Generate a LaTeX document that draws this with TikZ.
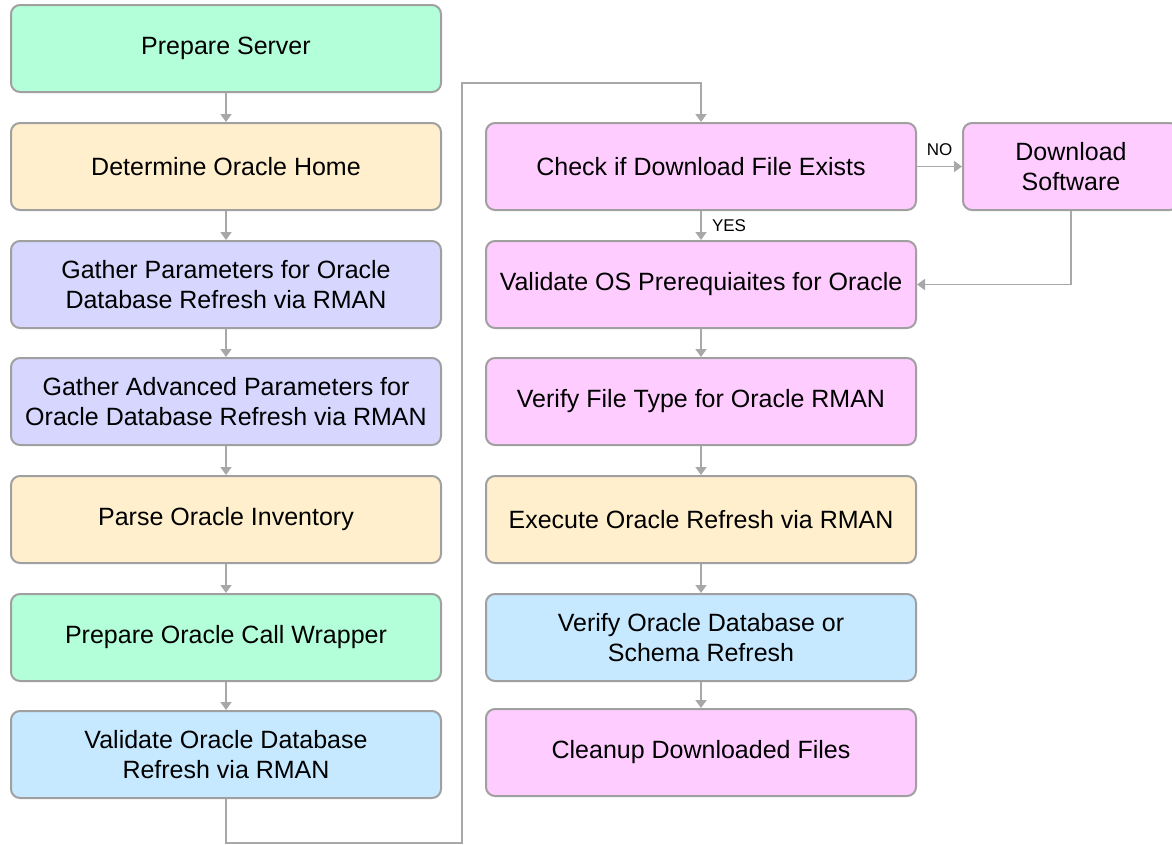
\documentclass[tikz,border=0pt]{standalone}
\usepackage{fontspec}
\setmainfont{Liberation Sans}
\usetikzlibrary{arrows.meta}
\definecolor{cgreen}{HTML}{B3FFD9}
\definecolor{cbeige}{HTML}{FFEFCC}
\definecolor{clav}{HTML}{D6D6FF}
\definecolor{cblue}{HTML}{C6E9FF}
\definecolor{cpink}{HTML}{FFCCFF}
\definecolor{cborder}{HTML}{A0A0A0}
\definecolor{cline}{HTML}{A8A8A8}
\begin{document}
\begin{tikzpicture}[x=1pt,y=-1pt,
  box/.style={draw=cborder, line width=2pt, rounded corners=9pt, minimum width=430pt, minimum height=87pt, align=center, font=\fontsize{25}{30}\selectfont, inner sep=0pt, text=black},
  conn/.style={draw=cline, line width=1.8pt, -{Triangle[width=11pt,length=8pt]}},
  lbl/.style={font=\fontsize{17}{20}\selectfont, inner sep=0pt, text=black}]
\useasboundingbox (0,0) rectangle (1172,844);
% left column
\node[box, fill=cgreen] (n1) at (226,48.5) {Prepare Server};
\node[box, fill=cbeige] (n2) at (226,166.5) {Determine Oracle Home};
\node[box, fill=clav] (n3) at (226,284.5) {Gather Parameters for Oracle\\Database Refresh via RMAN};
\node[box, fill=clav] (n4) at (226,401.5) {Gather Advanced Parameters for\\Oracle Database Refresh via RMAN};
\node[box, fill=cbeige] (n5) at (226,519.5) {Parse Oracle Inventory};
\node[box, fill=cgreen] (n6) at (226,637.5) {Prepare Oracle Call Wrapper};
\node[box, fill=cblue] (n7) at (226,754.5) {Validate Oracle Database\\Refresh via RMAN};
% right column
\node[box, fill=cpink] (n8) at (701,166.5) {Check if Download File Exists};
\node[box, fill=cpink, minimum width=216pt] (dl) at (1071,166.5) {Download\\Software};
\node[box, fill=cpink] (n9) at (701,284.5) {Validate OS Prerequiaites for Oracle};
\node[box, fill=cpink] (n10) at (701,401.5) {Verify File Type for Oracle RMAN};
\node[box, fill=cbeige] (n11) at (701,519.5) {Execute Oracle Refresh via RMAN};
\node[box, fill=cblue] (n12) at (701,637.5) {Verify Oracle Database or\\Schema Refresh};
\node[box, fill=cpink] (n13) at (701,752.5) {Cleanup Downloaded Files};
% connectors
\draw[conn] (n1) -- (n2);
\draw[conn] (n2) -- (n3);
\draw[conn] (n3) -- (n4);
\draw[conn] (n4) -- (n5);
\draw[conn] (n5) -- (n6);
\draw[conn] (n6) -- (n7);
\coordinate (b1) at (462,843);
\coordinate (t1) at (462,83);
\draw[conn] (n7.south) |- (b1) -- (t1) -| (n8.north);
\draw[conn] (n8.east) -- (dl.west);
\node[lbl] (no) at (939.5,150) {NO};
\draw[conn] (n8) -- (n9);
\node[lbl] (yes) at (729,226) {YES};
\draw[conn] (dl.south) |- (n9.east);
\draw[conn] (n9) -- (n10);
\draw[conn] (n10) -- (n11);
\draw[conn] (n11) -- (n12);
\draw[conn] (n12) -- (n13);
\end{tikzpicture}
\end{document}
